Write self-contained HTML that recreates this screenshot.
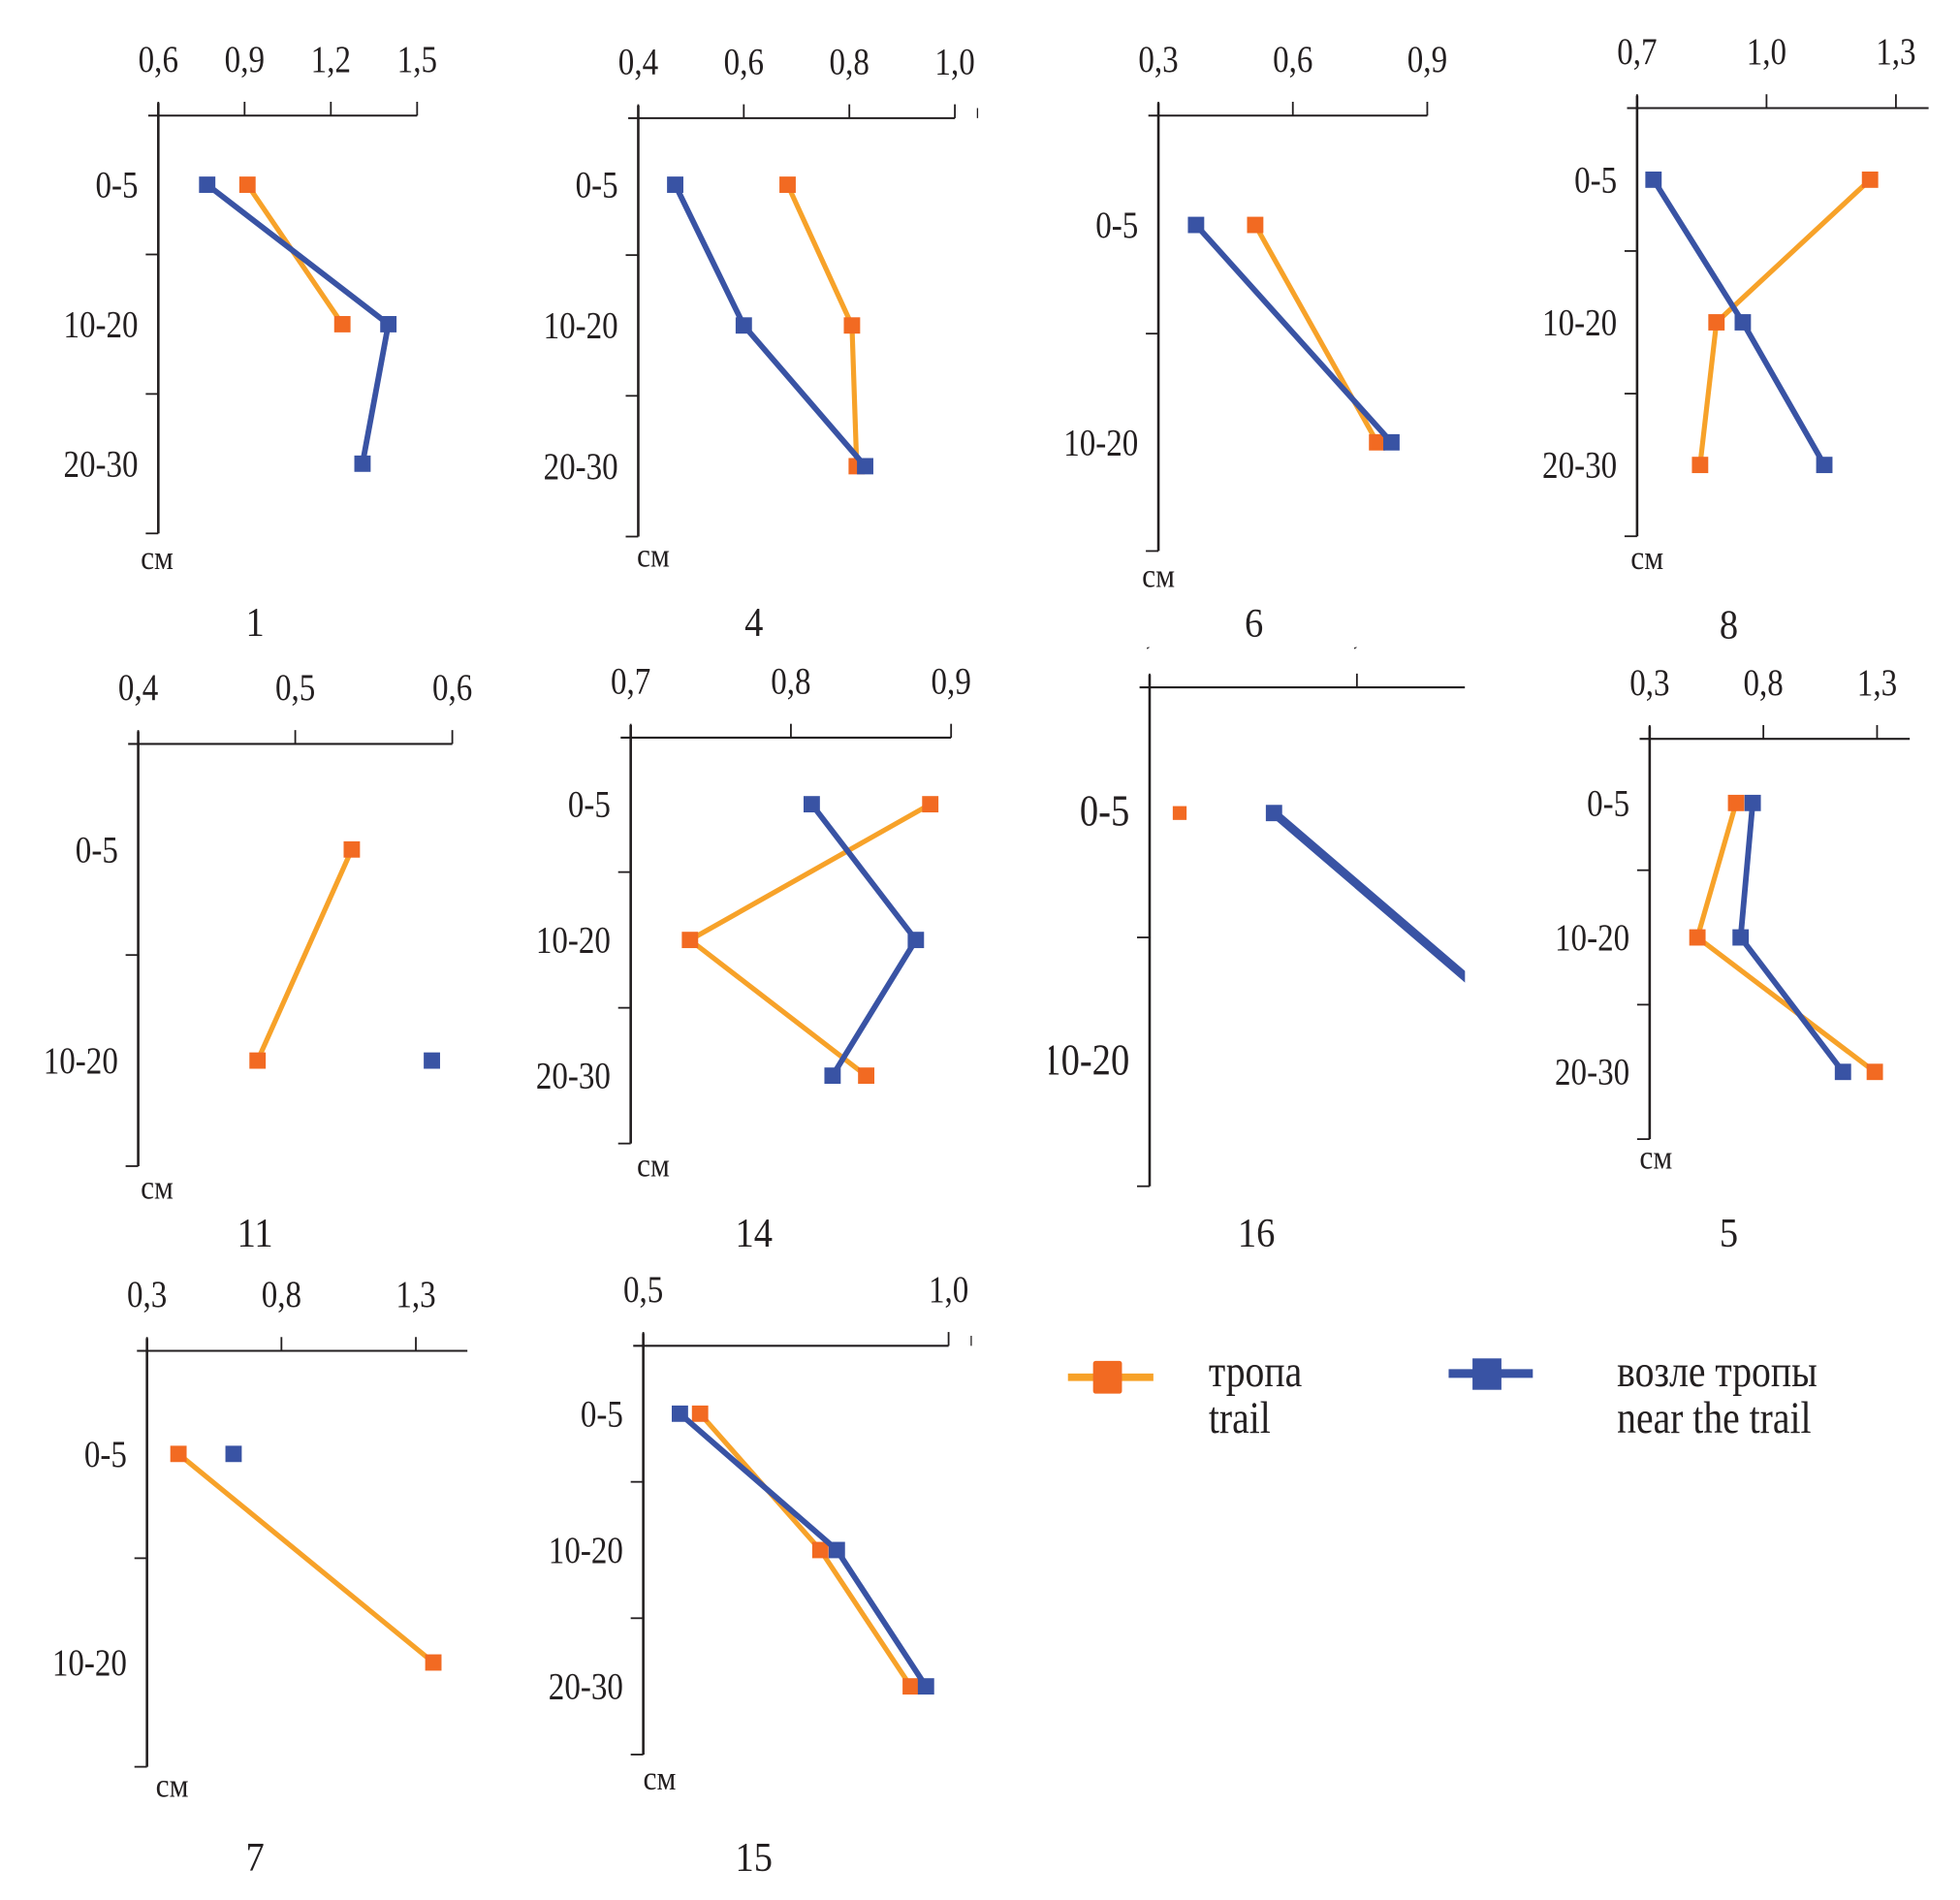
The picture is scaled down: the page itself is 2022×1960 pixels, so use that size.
<!DOCTYPE html>
<html><head><meta charset="utf-8"><style>
html,body{margin:0;padding:0;background:#fff;}
svg{display:block;}
text{font-family:"Liberation Serif",serif;fill:#231f20;}
</style></head><body>
<svg id="chart" width="2022" height="1960" viewBox="0 0 1560 1512" preserveAspectRatio="none" xmlns="http://www.w3.org/2000/svg">
<defs><clipPath id="clip16"><rect x="835" y="515" width="331" height="480"/></clipPath></defs>
<g id="panels"></g>
<g>
  <line x1="850" y1="1096" x2="918" y2="1096" stroke="#f7a229" stroke-width="6"/>
  <rect x="870" y="1083" width="23" height="26" rx="2" fill="#f26a22"/>
  <text transform="translate(962,1103) scale(0.85,1)" font-size="36">тропа</text>
  <text transform="translate(962,1140) scale(0.85,1)" font-size="36">trail</text>
  <line x1="1153" y1="1093" x2="1220" y2="1093" stroke="#3953a4" stroke-width="7"/>
  <rect x="1172" y="1081" width="23" height="25" fill="#3953a4"/>
  <text transform="translate(1287,1103) scale(0.85,1)" font-size="36">возле тропы</text>
  <text transform="translate(1287,1140) scale(0.85,1)" font-size="36">near the trail</text>
</g>
</svg>
<script>
const cats3 = ["0-5","10-20","20-30"];
const cats2 = ["0-5","10-20"];
const p1_ticks = [0.6,0.9,1.2,1.5];
const p1_trail = [0.91,1.24,null];
const p1_near = [0.77,1.40,1.31];
const p4_ticks = [0.4,0.6,0.8,1.0];
const p4_trail = [0.683,0.805,0.814];
const p4_near = [0.47,0.60,0.83];
const p6_ticks = [0.3,0.6,0.9];
const p6_trail = [0.516,0.788];
const p6_near = [0.384,0.82];
const p8_ticks = [0.7,1.0,1.3];
const p8_trail = [1.24,0.884,0.846];
const p8_near = [0.738,0.945,1.134];
const p11_ticks = [0.4,0.5,0.6];
const p11_trail = [0.536,0.476];
const p11_near = [null,0.587];
const p14_ticks = [0.7,0.8,0.9];
const p14_trail = [0.887,0.737,0.847];
const p14_near = [0.813,0.878,0.826];
const p16_ticks = [0.2,0.4];
const p16_trail = [0.229,null];
const p16_near = [0.32,0.6];
const p5_ticks = [0.3,0.8,1.3];
const p5_trail = [0.68,0.51,1.29];
const p5_near = [0.753,0.70,1.15];
const p7_ticks = [0.3,0.8,1.3];
const p7_trail = [0.417,1.365];
const p7_near = [0.622,null];
const p15_ticks = [0.5,1.0];
const p15_trail = [0.593,0.79,0.938];
const p15_near = [0.56,0.817,0.963];

const panels = [
 {id:"1",ax:126,ay:92,axR:332,tEnd:332,cat0:147,step:111,ticks:p1_ticks,cats:cats3,trail:p1_trail,near:p1_near,title:[203,506],cm:[125,453]},
 {id:"4",ax:508,ay:94,axR:760,tEnd:760,cat0:147,step:112,ticks:p4_ticks,cats:cats3,trail:p4_trail,near:p4_near,title:[600,506],cm:[520,451],extra:778},
 {id:"6",ax:922,ay:92,axR:1136,tEnd:1136,cat0:179,step:173,ticks:p6_ticks,cats:cats2,trail:p6_trail,near:p6_near,title:[998,507],cm:[922,467]},
 {id:"8",ax:1303,ay:86,axR:1535,tEnd:1509,cat0:143,step:113.5,ticks:p8_ticks,cats:cats3,trail:p8_trail,near:p8_near,title:[1376,508],cm:[1311,453]},
 {id:"11",ax:110,ay:592,axR:360,tEnd:360,cat0:676,step:168,ticks:p11_ticks,cats:cats2,trail:p11_trail,near:p11_near,title:[203,992],cm:[125,954]},
 {id:"14",ax:502,ay:587,axR:757,tEnd:757,cat0:640,step:108,ticks:p14_ticks,cats:cats3,trail:p14_trail,near:p14_near,title:[600,992],cm:[520,936]},
 {id:"16",ax:915,ay:547,axR:1166,tEnd:1080,cat0:647,step:198,ticks:p16_ticks,cats:cats2,trail:p16_trail,near:p16_near,title:[1000,992],cm:null,clip:true},
 {id:"5",ax:1313,ay:588,axR:1520,tEnd:1494,cat0:639,step:107,ticks:p5_ticks,cats:cats3,trail:p5_trail,near:p5_near,title:[1376,992],cm:[1318,930]},
 {id:"7",ax:117,ay:1075,axR:372,tEnd:331,cat0:1157,step:166,ticks:p7_ticks,cats:cats2,trail:p7_trail,near:p7_near,title:[203,1489],cm:[137,1430]},
 {id:"15",ax:512,ay:1071,axR:755,tEnd:755,cat0:1125,step:108.5,ticks:p15_ticks,cats:cats3,trail:p15_trail,near:p15_near,title:[600,1489],cm:[525,1424],extra:773}
];

const NS = "http://www.w3.org/2000/svg";
const root = document.getElementById("panels");
function mk(tag, attrs, parent){
  const e = document.createElementNS(NS, tag);
  for (const k in attrs) e.setAttribute(k, attrs[k]);
  parent.appendChild(e);
  return e;
}
function fmt(v){ return v.toFixed(1).replace(".", ","); }

panels.forEach(p => {
  const g = mk("g", {}, root);
  
  
  const inner = mk("g", p.clip ? {"clip-path":"url(#clip16)"} : {}, g);
  const t0 = p.ticks[0], t1 = p.ticks[p.ticks.length-1];
  const xs = v => p.ax + (v - t0) / (t1 - t0) * (p.tEnd - p.ax);
  const ys = i => p.cat0 + i * p.step;
  const top = p.cat0 - p.step/2, bot = ys(p.cats.length-1) + p.step/2;
  const xa = mk("line", {x1:p.ax-8, y1:p.ay, x2:p.axR, y2:p.ay, stroke:"#231f20", "stroke-width":1.6}, inner);
  
  
  const ya = mk("line", {x1:p.ax, y1:Math.min(top,p.ay-10), x2:p.ax, y2:bot, stroke:"#231f20", "stroke-width":2}, inner);
  
  
  if (p.extra) mk("line", {x1:p.extra, y1:p.ay-8, x2:p.extra, y2:p.ay, stroke:"#231f20", "stroke-width":1}, inner);
  p.ticks.forEach(v => {
    const x = xs(v);
    mk("line", {x1:x, y1:p.ay-11, x2:x, y2:p.ay, stroke:"#231f20", "stroke-width":1.4}, inner);
    const t = mk("text", {transform:"translate("+x+","+(p.ay-35)+") scale(0.85,1)", "text-anchor":"middle", "font-size":30}, inner);
    
    
    t.textContent = fmt(v);
  });
  for (let i = 0; i < p.cats.length; i++) {
    const yb = ys(i) + p.step/2;
    mk("line", {x1:p.ax-10, y1:yb, x2:p.ax, y2:yb, stroke:"#231f20", "stroke-width":1.4}, inner);
  }
  p.cats.forEach((c, i) => {
    const t = mk("text", {transform:"translate("+(p.ax-16)+","+(ys(i)+10)+") scale(0.85,1)", "text-anchor":"end", "font-size":p.clip?35:30}, inner);
    
    
    t.textContent = c;
  });
  const series = [[p.trail, "#f7a229", "#f26a22", "trail"], [p.near, "#3953a4", "#3953a4", "near-trail"]];
  series.forEach(([vals, lc, mc, nm]) => {
    let seg = [];
    const segs = [];
    vals.forEach((v, i) => { if (v === null) { if (seg.length) segs.push(seg); seg = []; } else seg.push([xs(v), ys(i)]); });
    if (seg.length) segs.push(seg);
    segs.forEach(s => {
      if (s.length > 1) {
        const pl = mk("polyline", {points:s.map(q=>q.join(",")).join(" "), fill:"none", stroke:lc, "stroke-width":nm==="trail"?4:(p.clip?7:4.5), "stroke-linejoin":"miter"}, inner);
        
        
      }
    });
    vals.forEach((v, i) => {
      if (v === null) return;
      const sz = (p.clip && nm==="trail") ? 11 : 13;
      const r = mk("rect", {x:xs(v)-sz/2, y:ys(i)-sz/2, width:sz, height:sz, fill:mc}, inner);
      
      
    });
  });
  if (p.cm) {
    const t = mk("text", {transform:"translate("+p.cm[0]+","+p.cm[1]+") scale(0.9,1)", "text-anchor":"middle", "font-size":27}, g);
    
    
    t.textContent = "см";
  }
  const tt = mk("text", {transform:"translate("+p.title[0]+","+p.title[1]+") scale(0.9,1)", "text-anchor":"middle", "font-size":33}, g);
  
  
  tt.textContent = p.id;
});
</script>
</body></html>
